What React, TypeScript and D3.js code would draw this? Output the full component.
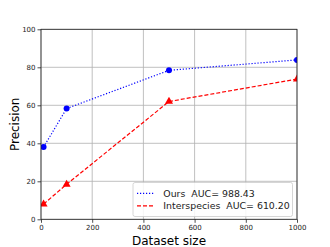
import React, { useEffect, useRef } from 'react';
import * as d3 from 'd3';

const sizes = [10, 100, 500, 1000];
const oursValues = [38, 58.3, 78.4, 83.9];
const interValues = [8, 18.4, 62, 73.8];
const xTicks = [0, 200, 400, 600, 800, 1000];
const yTicks = [0, 20, 40, 60, 80, 100];
const legendLabels = ['Ours  AUC= 988.43', 'Interspecies  AUC= 610.20'];

const App = () => {
    const ref = useRef<SVGSVGElement>(null);

    useEffect(() => {
        if (!ref.current) return;
        const svg = d3.select(ref.current);
        svg.selectAll('*').remove();

        const width = 330;
        const height = 247;
        const margin = { top: 29.3, right: 33, bottom: 27.7, left: 41 };
        const font = 'DejaVu Sans, sans-serif';

        const x = d3.scaleLinear().domain([0, 1000]).range([margin.left, width - margin.right]);
        const y = d3.scaleLinear().domain([0, 100]).range([height - margin.bottom, margin.top]);

        svg.append('rect').attr('width', width).attr('height', height).attr('fill', '#fff');

        svg.append('defs').append('clipPath').attr('id', 'plotclip')
            .append('rect')
            .attr('x', x(0)).attr('y', y(100))
            .attr('width', x(1000) - x(0)).attr('height', y(0) - y(100));

        // grid
        const grid = svg.append('g');
        grid.selectAll('.gx').data(xTicks).join('line')
            .attr('x1', d => x(d)).attr('x2', d => x(d))
            .attr('y1', y(0)).attr('y2', y(100))
            .attr('stroke', '#b0b0b0').attr('stroke-width', 0.8);
        grid.selectAll('.gy').data(yTicks).join('line')
            .attr('x1', x(0)).attr('x2', x(1000))
            .attr('y1', d => y(d)).attr('y2', d => y(d))
            .attr('stroke', '#b0b0b0').attr('stroke-width', 0.8);

        const plot = svg.append('g').attr('clip-path', 'url(#plotclip)');

        const lineGen = d3.line<number>()
            .x((_, i) => x(sizes[i]))
            .y(d => y(d));

        plot.append('path').datum(oursValues)
            .attr('fill', 'none').attr('stroke', 'blue').attr('stroke-width', 1.2)
            .attr('stroke-dasharray', '1.2,1.8').attr('d', lineGen);
        plot.append('path').datum(interValues)
            .attr('fill', 'none').attr('stroke', 'red').attr('stroke-width', 1.2)
            .attr('stroke-dasharray', '4,2').attr('d', lineGen);

        plot.selectAll('.dot').data(oursValues).join('circle')
            .attr('cx', (_, i) => x(sizes[i])).attr('cy', d => y(d))
            .attr('r', 3).attr('fill', 'blue');

        const tri = d3.symbol().type(d3.symbolTriangle).size(28);
        plot.selectAll('.tri').data(interValues).join('path')
            .attr('d', tri)
            .attr('transform', (d, i) => `translate(${x(sizes[i])},${y(d)})`)
            .attr('fill', 'red');

        // axes
        const xAxis = svg.append('g')
            .attr('transform', `translate(0,${y(0)})`)
            .call(d3.axisBottom(x).tickValues(xTicks).tickSize(3.5).tickPadding(2).tickFormat(d3.format('d')));
        const yAxis = svg.append('g')
            .attr('transform', `translate(${x(0)},0)`)
            .call(d3.axisLeft(y).tickValues(yTicks).tickSize(3.5).tickPadding(2).tickFormat(d3.format('d')));
        [xAxis, yAxis].forEach(a => {
            a.select('.domain').remove();
            a.selectAll('text').attr('font-family', font).attr('font-size', 7).attr('fill', '#222');
            a.selectAll('line').attr('stroke', '#222').attr('stroke-width', 0.8);
        });

        // spines
        svg.append('rect')
            .attr('x', x(0)).attr('y', y(100))
            .attr('width', x(1000) - x(0)).attr('height', y(0) - y(100))
            .attr('fill', 'none').attr('stroke', '#222').attr('stroke-width', 0.8);

        // axis labels
        svg.append('text')
            .attr('x', (x(0) + x(1000)) / 2).attr('y', 245)
            .attr('text-anchor', 'middle')
            .attr('font-family', font).attr('font-size', 12)
            .text('Dataset size');
        svg.append('text')
            .attr('transform', `translate(19,${(y(0) + y(100)) / 2}) rotate(-90)`)
            .attr('text-anchor', 'middle')
            .attr('font-family', font).attr('font-size', 12)
            .text('Precision');

        // legend
        const lg = svg.append('g');
        lg.append('rect')
            .attr('x', 133).attr('y', 182.5).attr('width', 159.5).attr('height', 34)
            .attr('rx', 2).attr('fill', '#fff').attr('fill-opacity', 0.85)
            .attr('stroke', '#ccc').attr('stroke-width', 0.8);
        const styles = [
            { color: 'blue', dash: '1.2,1.8' },
            { color: 'red', dash: '4,2' },
        ];
        legendLabels.forEach((label, i) => {
            const ly = 193.3 + i * 12.5;
            lg.append('line')
                .attr('x1', 137).attr('x2', 155).attr('y1', ly).attr('y2', ly)
                .attr('stroke', styles[i].color).attr('stroke-width', 1.2)
                .attr('stroke-dasharray', styles[i].dash);
            lg.append('text')
                .attr('x', 163.3).attr('y', ly + 3.4)
                .attr('font-family', font).attr('font-size', 9.4).attr('fill', '#222')
                .style('white-space', 'pre')
                .text(label);
        });
    }, []);

    return <svg ref={ref} width={330} height={247} style={{ display: 'block', position: 'absolute', left: 0, top: 0 }} />;
};

export default App;
